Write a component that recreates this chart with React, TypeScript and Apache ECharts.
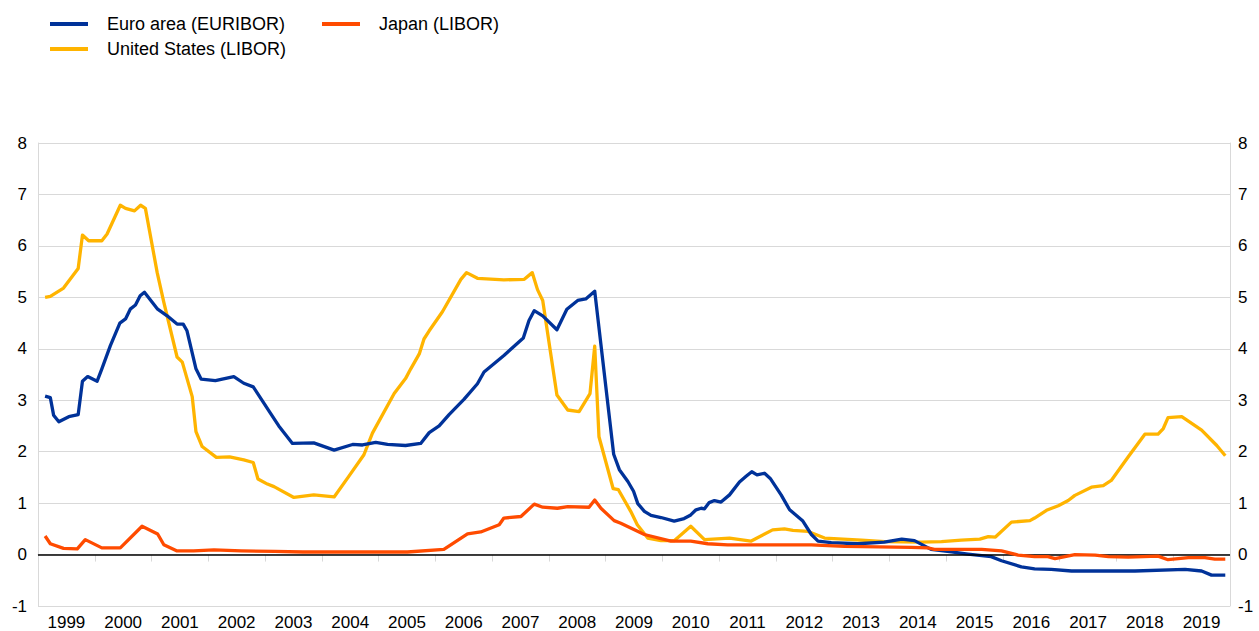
import React, { useEffect, useRef } from 'react';
import * as echarts from 'echarts';

const yearLabels = ['1999', '2000', '2001', '2002', '2003', '2004', '2005', '2006', '2007', '2008', '2009',
  '2010', '2011', '2012', '2013', '2014', '2015', '2016', '2017', '2018', '2019'];

const euroTime = [1999.125, 1999.217, 1999.275, 1999.367, 1999.542, 1999.708, 1999.783, 1999.875, 2000.042, 2000.125,
  2000.275, 2000.442, 2000.542, 2000.625, 2000.717, 2000.8, 2000.875, 2001.108, 2001.275, 2001.45,
  2001.558, 2001.625, 2001.783, 2001.875, 2002.125, 2002.45, 2002.625, 2002.792, 2003.1, 2003.242,
  2003.483, 2003.858, 2004.217, 2004.542, 2004.717, 2004.95, 2005.158, 2005.475, 2005.742, 2005.892,
  2006.067, 2006.242, 2006.508, 2006.742, 2006.858, 2007.208, 2007.55, 2007.65, 2007.742, 2007.892,
  2008.142, 2008.317, 2008.508, 2008.65, 2008.808, 2009.142, 2009.242, 2009.392, 2009.492, 2009.567,
  2009.683, 2009.8, 2009.975, 2010.208, 2010.383, 2010.5, 2010.592, 2010.683, 2010.742, 2010.825,
  2010.917, 2011.033, 2011.183, 2011.358, 2011.475, 2011.575, 2011.667, 2011.8, 2011.9, 2012.092,
  2012.242, 2012.475, 2012.625, 2012.742, 2012.975, 2013.442, 2013.908, 2014.217, 2014.442, 2014.733,
  2015.092, 2015.383, 2015.792, 2015.975, 2016.325, 2016.558, 2016.85, 2017.208, 2018.325, 2019.208,
  2019.5, 2019.675, 2019.917];
const euroRate = [3.08, 3.05, 2.71, 2.58, 2.68, 2.72, 3.37, 3.46, 3.37, 3.61,
  4.06, 4.50, 4.58, 4.77, 4.85, 5.03, 5.10, 4.77, 4.64, 4.48,
  4.48, 4.35, 3.61, 3.41, 3.38, 3.46, 3.33, 3.26, 2.74, 2.50,
  2.16, 2.17, 2.03, 2.14, 2.13, 2.18, 2.14, 2.12, 2.16, 2.37,
  2.50, 2.72, 3.02, 3.32, 3.55, 3.87, 4.21, 4.55, 4.74, 4.64,
  4.37, 4.77, 4.94, 4.97, 5.12, 1.95, 1.65, 1.42, 1.23, 0.99,
  0.84, 0.76, 0.72, 0.65, 0.70, 0.77, 0.87, 0.90, 0.89, 1.01,
  1.05, 1.02, 1.16, 1.41, 1.52, 1.61, 1.55, 1.58, 1.48, 1.16,
  0.87, 0.65, 0.39, 0.26, 0.23, 0.21, 0.24, 0.30, 0.27, 0.10,
  0.05, 0.01, -0.04, -0.12, -0.24, -0.28, -0.29, -0.32, -0.32, -0.29,
  -0.32, -0.40, -0.40];

const usTime = [1999.125, 1999.217, 1999.45, 1999.708, 1999.783, 1999.892, 2000.125, 2000.217, 2000.45, 2000.542,
  2000.7, 2000.808, 2000.892, 2001.1, 2001.217, 2001.45, 2001.542, 2001.717, 2001.783, 2001.892,
  2002.142, 2002.375, 2002.625, 2002.792, 2002.875, 2003.042, 2003.158, 2003.508, 2003.858, 2004.217,
  2004.475, 2004.742, 2004.892, 2005.275, 2005.475, 2005.567, 2005.717, 2005.8, 2005.892, 2006.125,
  2006.45, 2006.55, 2006.742, 2007.208, 2007.567, 2007.708, 2007.8, 2007.892, 2008.142, 2008.333,
  2008.533, 2008.725, 2008.808, 2008.883, 2009.133, 2009.225, 2009.442, 2009.558, 2009.742, 2009.975,
  2010.208, 2010.5, 2010.742, 2011.183, 2011.558, 2011.942, 2012.15, 2012.3, 2012.567, 2012.858,
  2013.508, 2013.917, 2014.558, 2014.917, 2015.267, 2015.592, 2015.742, 2015.867, 2016.15, 2016.475,
  2016.558, 2016.767, 2016.975, 2017.15, 2017.267, 2017.558, 2017.767, 2017.908, 2018.208, 2018.5,
  2018.733, 2018.825, 2018.908, 2019.15, 2019.5, 2019.767, 2019.917];
const usRate = [5.00, 5.02, 5.18, 5.56, 6.21, 6.10, 6.10, 6.23, 6.79, 6.73,
  6.68, 6.79, 6.73, 5.48, 4.90, 3.84, 3.74, 3.07, 2.39, 2.10,
  1.89, 1.90, 1.84, 1.79, 1.47, 1.37, 1.32, 1.11, 1.16, 1.12,
  1.52, 1.94, 2.36, 3.13, 3.42, 3.61, 3.90, 4.19, 4.35, 4.72,
  5.35, 5.48, 5.37, 5.34, 5.35, 5.48, 5.15, 4.94, 3.10, 2.81,
  2.78, 3.13, 4.05, 2.29, 1.28, 1.26, 0.84, 0.58, 0.32, 0.27,
  0.27, 0.55, 0.29, 0.32, 0.26, 0.48, 0.50, 0.47, 0.45, 0.32,
  0.28, 0.25, 0.24, 0.25, 0.28, 0.30, 0.35, 0.34, 0.63, 0.66,
  0.71, 0.86, 0.95, 1.05, 1.15, 1.31, 1.34, 1.44, 1.90, 2.34,
  2.34, 2.45, 2.66, 2.68, 2.42, 2.12, 1.92];

const japanTime = [1999.125, 1999.217, 1999.45, 1999.692, 1999.833, 2000.125, 2000.45, 2000.833, 2001.108, 2001.217,
  2001.45, 2001.742, 2002.1, 2002.583, 2003.167, 2003.667, 2005.508, 2006.15, 2006.567, 2006.8,
  2007.125, 2007.208, 2007.508, 2007.742, 2007.892, 2008.15, 2008.333, 2008.708, 2008.808, 2008.917,
  2009.15, 2009.267, 2009.683, 2010.15, 2010.5, 2010.8, 2011.15, 2012.625, 2013.208, 2013.8,
  2014.383, 2014.675, 2014.792, 2015.625, 2015.975, 2016.267, 2016.558, 2016.792, 2016.917, 2017.267,
  2017.625, 2017.858, 2018.208, 2018.733, 2018.908, 2019.267, 2019.558, 2019.733, 2019.917];
const japanRate = [0.36, 0.21, 0.12, 0.11, 0.29, 0.13, 0.13, 0.55, 0.40, 0.19,
  0.07, 0.07, 0.09, 0.07, 0.06, 0.05, 0.05, 0.10, 0.40, 0.44,
  0.58, 0.71, 0.74, 0.98, 0.92, 0.90, 0.93, 0.92, 1.06, 0.90,
  0.66, 0.61, 0.39, 0.26, 0.26, 0.21, 0.19, 0.19, 0.16, 0.15,
  0.14, 0.13, 0.10, 0.10, 0.07, -0.01, -0.04, -0.04, -0.08, 0.00,
  -0.01, -0.04, -0.05, -0.03, -0.10, -0.06, -0.06, -0.09, -0.09];

const FONT = "'Liberation Sans', Arial, sans-serif";
const GREY = '#d9d9d9';

function zip(t: number[], v: number[]) {
  return t.map((x, i) => [x, v[i]]);
}

export default function App() {
  const ref = useRef<HTMLDivElement>(null);
  useEffect(() => {
    document.body.style.margin = '0';
    const chart = echarts.init(ref.current!, null, { renderer: 'svg' });
    const legendCommon = {
      icon: 'rect',
      itemWidth: 38,
      itemHeight: 4,
      padding: 0,
      selectedMode: false,
      textStyle: { fontSize: 18, color: '#000', fontFamily: FONT, padding: [0, 0, 0, 14] },
    };
    chart.setOption({
      animation: false,
      backgroundColor: '#fff',
      textStyle: { fontFamily: FONT },
      legend: [
        { ...legendCommon, data: ['Euro area (EURIBOR)'], left: 50, top: 15 },
        { ...legendCommon, data: ['Japan (LIBOR)'], left: 322, top: 15 },
        { ...legendCommon, data: ['United States (LIBOR)'], left: 50, top: 40 },
      ],
      grid: { left: 38, right: 29, top: 143, bottom: 23, containLabel: false },
      xAxis: [
        {
          type: 'category',
          data: yearLabels,
          boundaryGap: true,
          position: 'bottom',
          axisLine: { show: true, lineStyle: { color: GREY, width: 1 } },
          axisTick: { show: true, length: 7, lineStyle: { color: GREY } },
          axisLabel: { fontSize: 17, color: '#000', fontFamily: FONT, margin: 8, interval: 0 },
          splitLine: { show: false },
        },
        {
          type: 'value',
          min: 1999,
          max: 2020,
          show: false,
          splitLine: { show: false },
        },
      ],
      yAxis: [
        {
          type: 'value',
          position: 'left',
          min: -1,
          max: 8,
          interval: 1,
          axisLine: { show: true, lineStyle: { color: GREY } },
          axisTick: { show: false },
          axisLabel: { fontSize: 17, color: '#000', fontFamily: FONT, margin: 11 },
          splitLine: { show: true, lineStyle: { color: GREY, width: 1 } },
        },
        {
          type: 'value',
          position: 'right',
          min: -1,
          max: 8,
          interval: 1,
          axisLine: { show: true, lineStyle: { color: GREY } },
          axisTick: { show: false },
          axisLabel: { fontSize: 17, color: '#000', fontFamily: FONT, margin: 8 },
          splitLine: { show: false },
        },
      ],
      series: [
        {
          name: 'United States (LIBOR)',
          type: 'line',
          xAxisIndex: 1,
          yAxisIndex: 0,
          data: zip(usTime, usRate),
          showSymbol: false,
          symbol: 'none',
          color: '#FFB400',
          lineStyle: { width: 3.3, color: '#FFB400', join: 'round' },
          z: 3,
        },
        {
          name: 'Euro area (EURIBOR)',
          type: 'line',
          xAxisIndex: 1,
          yAxisIndex: 0,
          data: zip(euroTime, euroRate),
          showSymbol: false,
          symbol: 'none',
          color: '#003299',
          lineStyle: { width: 3.3, color: '#003299', join: 'round' },
          z: 4,
          markLine: {
            silent: true,
            symbol: ['none', 'none'],
            label: { show: false },
            lineStyle: { color: '#000', width: 1.5, type: 'solid' },
            data: [{ yAxis: 0 }],
          },
        },
        {
          name: 'Japan (LIBOR)',
          type: 'line',
          xAxisIndex: 1,
          yAxisIndex: 0,
          data: zip(japanTime, japanRate),
          showSymbol: false,
          symbol: 'none',
          color: '#FF4B00',
          lineStyle: { width: 3.3, color: '#FF4B00', join: 'round' },
          z: 5,
        },
      ],
    });
    return () => chart.dispose();
  }, []);
  return <div ref={ref} style={{ position: 'absolute', left: 0, top: 0, width: 1259, height: 631 }} />;
}
